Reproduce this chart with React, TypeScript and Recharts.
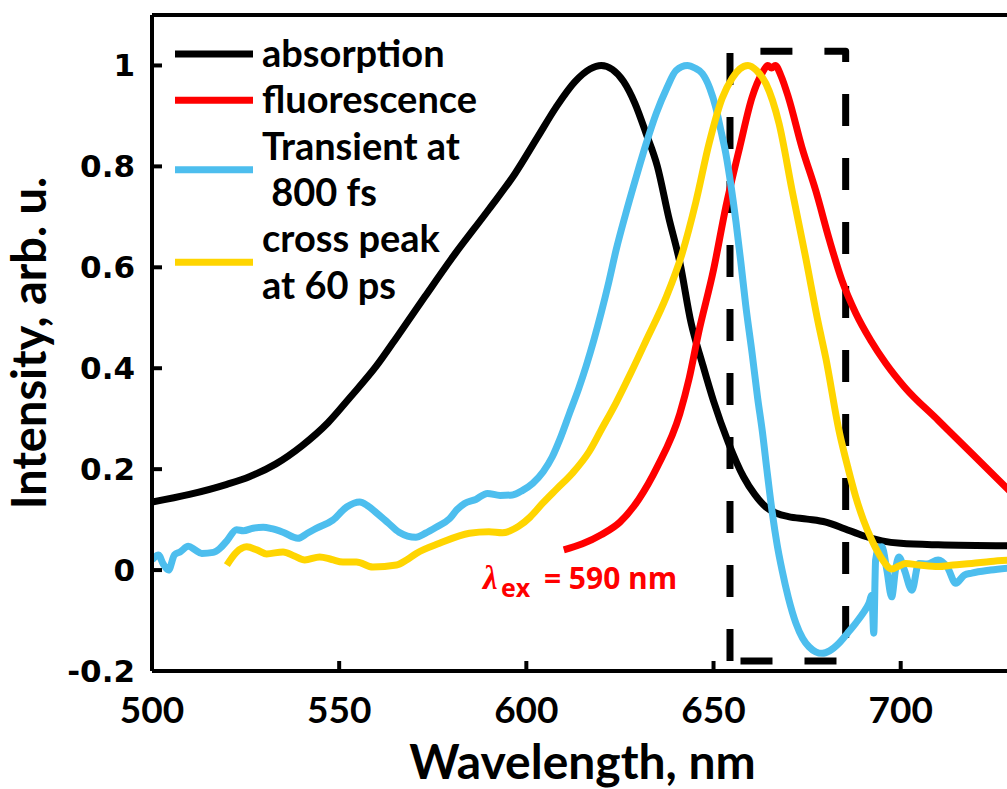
import React from "react"
import { LineChart, Line, XAxis, YAxis, Legend, ReferenceDot } from "recharts"

// wavelength (nm) / normalised intensity
const absorptionNm = [500, 510, 520, 526, 533, 540, 547, 553, 560, 566, 573, 580, 590, 597, 603, 608, 613, 617, 620, 623, 626, 629, 632, 635, 638, 641, 644, 647, 650, 654, 658, 661, 664, 667, 670, 675, 680, 685, 690, 695, 700, 710, 730]
const absorptionVal = [0.135, 0.15, 0.17, 0.185, 0.21, 0.246, 0.292, 0.343, 0.405, 0.468, 0.543, 0.617, 0.715, 0.786, 0.858, 0.918, 0.968, 0.993, 1.0, 0.992, 0.968, 0.925, 0.865, 0.8, 0.7, 0.61, 0.49, 0.41, 0.335, 0.252, 0.185, 0.15, 0.125, 0.112, 0.106, 0.101, 0.095, 0.082, 0.068, 0.058, 0.053, 0.05, 0.048]

const fluorNm = [610, 615, 620, 625, 630, 635, 641, 643.5, 646, 650, 653.3, 657, 660.3, 663, 664.5, 665.5, 666.5, 668, 670, 673.6, 677.3, 681, 684.3, 688, 692, 696, 701, 710, 719, 730]
const fluorVal = [0.04, 0.052, 0.07, 0.095, 0.14, 0.205, 0.31, 0.38, 0.47, 0.595, 0.72, 0.838, 0.937, 0.985, 1.0, 0.995, 1.0, 0.98, 0.937, 0.838, 0.752, 0.653, 0.574, 0.509, 0.455, 0.41, 0.363, 0.297, 0.231, 0.15]

const transientNm = [500, 501.7, 503, 504.4, 506, 507.5, 509.7, 511.5, 513.3, 516.4, 518, 520, 522.6, 524.4, 527, 529.7, 532, 535, 539, 541.5, 544, 548.3, 552, 555.5, 557.5, 560, 563, 566, 570.5, 573, 575.9, 579.5, 581.5, 583.5, 586.5, 589.6, 593, 596.3, 599, 601.7, 604.5, 606.9, 609, 611.5, 614, 616, 618, 620, 622, 624, 626.5, 629.3, 632, 634.7, 637.5, 640, 643, 645, 647, 649, 650.6, 652, 653.3, 654.7, 656, 657.3, 658.6, 660.3, 661.8, 663, 664.4, 665.7, 667, 668.3, 670, 672, 673.8, 675.5, 677.3, 679, 681, 683.5, 685.8, 688, 690, 691.5, 692.3, 692.8, 693.3, 694.2, 695, 696.3, 697.6, 698.6, 699.5, 701, 703, 704.8, 707, 710, 712.5, 714.7, 717, 719, 724, 730]
const transientVal = [0.02, 0.03, 0.012, 0.0, 0.03, 0.036, 0.047, 0.04, 0.033, 0.035, 0.042, 0.058, 0.08, 0.078, 0.083, 0.085, 0.082, 0.075, 0.063, 0.073, 0.083, 0.099, 0.125, 0.135, 0.128, 0.113, 0.094, 0.075, 0.065, 0.073, 0.085, 0.102, 0.12, 0.132, 0.14, 0.152, 0.148, 0.149, 0.158, 0.172, 0.195, 0.224, 0.26, 0.31, 0.36, 0.405, 0.455, 0.51, 0.57, 0.635, 0.705, 0.778, 0.845, 0.905, 0.955, 0.99, 1.0, 0.995, 0.984, 0.955, 0.917, 0.87, 0.825, 0.76, 0.69, 0.61, 0.525, 0.43, 0.34, 0.277, 0.19, 0.113, 0.05, 0.0, -0.055, -0.105, -0.135, -0.152, -0.162, -0.165, -0.16, -0.145, -0.125, -0.105, -0.085, -0.066, -0.05, -0.125, 0.02, 0.045, 0.046, 0.0, -0.053, 0.0, 0.026, 0.0, -0.04, 0.013, 0.012, 0.02, 0.005, -0.026, -0.01, -0.006, 0.0, 0.005]

const crossNm = [520, 522.5, 525.3, 528, 530.6, 535, 538, 540.8, 544.8, 548, 551, 554.6, 559, 565.3, 568, 570.6, 576.8, 584.8, 590, 593.6, 598, 601, 604.3, 608, 612.3, 616.8, 620, 624, 628, 632, 637.3, 641.6, 645.3, 648.8, 652.3, 655, 657, 659.2, 661.5, 664, 667.5, 671, 674.6, 678, 680, 683.5, 686, 688, 690, 692.3, 695, 697.6, 699.5, 701.3, 705, 710, 714, 719, 724, 730]
const crossVal = [0.01, 0.035, 0.046, 0.04, 0.032, 0.036, 0.028, 0.02, 0.026, 0.021, 0.016, 0.016, 0.006, 0.01, 0.02, 0.033, 0.053, 0.073, 0.076, 0.074, 0.087, 0.105, 0.132, 0.16, 0.192, 0.235, 0.278, 0.332, 0.392, 0.455, 0.54, 0.627, 0.73, 0.845, 0.935, 0.975, 0.993, 1.0, 0.99, 0.964, 0.885, 0.752, 0.62, 0.489, 0.42, 0.277, 0.2, 0.145, 0.1, 0.059, 0.022, 0.002, 0.008, 0.013, 0.01, 0.007, 0.01, 0.013, 0.017, 0.02]

// dashed window, traced from its lower-left corner
const windowNm = [654.4, 654.4, 685.3, 685.3, 654.4]
const windowVal = [-0.18, 1.028, 1.028, -0.18, -0.18]

const xTicks = [500, 550, 600, 650, 700]
const yTicks = [-0.2, 0, 0.2, 0.4, 0.6, 0.8, 1]
const xDomain = [500, 730]
const yDomain = [-0.2, 1.1]

const excitationNm = 588.4
const excitationY = -0.038

const zip = (nm: number[], val: number[]) => nm.map((x, i) => ({ x, y: val[i] }))

const series = [
  { name: "absorption", color: "#000000", data: zip(absorptionNm, absorptionVal), label: ["absorption"] },
  { name: "fluorescence", color: "#ff0000", data: zip(fluorNm, fluorVal), label: ["fluorescence"] },
  { name: "transient", color: "#4dbeee", data: zip(transientNm, transientVal), label: ["Transient at", " 800 fs"] },
  { name: "cross", color: "#ffd500", data: zip(crossNm, crossVal), label: ["cross peak", "at 60 ps"] },
]

const sans = "Lato, 'Open Sans', sans-serif"

function LegendBox() {
  let row = 0
  return (
    <svg width={340} height={290} style={{ display: "block" }}>
      {series.map((s) => {
        const first = 39 + row * 46.3
        const last = first + (s.label.length - 1) * 46.3
        row += s.label.length
        const ly = (first + last) / 2 - 13
        return (
          <g key={s.name}>
            <line x1={5} x2={83} y1={ly} y2={ly} stroke={s.color} strokeWidth={7} />
            {s.label.map((t, i) => (
              <text key={i} x={92} y={first + i * 46.3} fontFamily={sans} fontWeight={700} fontSize={38} fill="#000" style={{ whiteSpace: "pre" }}>
                {t}
              </text>
            ))}
          </g>
        )
      })}
    </svg>
  )
}

function YTitle(props: any) {
  const vb = props.viewBox || { x: 52, y: 15, width: 100, height: 656 }
  const cx = vb.x - 6
  const cy = vb.y + vb.height / 2
  return (
    <text x={cx} y={cy} transform={`rotate(-90 ${cx} ${cy})`} textAnchor="middle" fontFamily={sans} fontWeight={700} fontSize={47} fill="#000">
      Intensity, arb. u.
    </text>
  )
}

function XTitle(props: any) {
  const vb = props.viewBox || { x: 152, y: 671, width: 861, height: 118 }
  const cx = vb.x + vb.width / 2
  return (
    <text x={cx} y={vb.y + 108} textAnchor="middle" fontFamily={sans} fontWeight={700} fontSize={48} fill="#000">
      Wavelength, nm
    </text>
  )
}

function ExcitationNote(props: any) {
  const { cx, cy } = props
  return (
    <text x={cx} y={cy} fill="#ff0000" fontFamily="'Open Sans', sans-serif" fontWeight={700} fontSize={30}>
      <tspan fontFamily="'Liberation Serif', serif" fontStyle="italic" fontSize={33}>λ</tspan>
      <tspan x={cx + 18} dy={8} fontSize={25}>ex</tspan>
      <tspan x={cx + 61} dy={-8}>= 590 nm</tspan>
    </text>
  )
}

const axisLine = { stroke: "#000", strokeWidth: 4 }
const tickLine = { stroke: "#000", strokeWidth: 4 }

export default function App() {
  return (
    <div style={{ position: "fixed", left: 0, top: 0, width: 1007, height: 789, overflow: "hidden", background: "#fff" }}>
      <LineChart width={1040} height={789} margin={{ top: 0, right: 17, bottom: 0, left: 52 }}>
        <XAxis
          dataKey="x"
          type="number"
          domain={xDomain}
          allowDataOverflow
          ticks={xTicks}
          interval={0}
          height={118}
          tickSize={-10}
          tickMargin={36}
          axisLine={axisLine}
          tickLine={tickLine}
          tick={{ fill: "#000", fontSize: 37, fontFamily: sans, fontWeight: 700 }}
          label={{ content: (p: any) => <XTitle {...p} /> }}
        />
        <XAxis
          xAxisId="top"
          orientation="top"
          dataKey="x"
          type="number"
          domain={xDomain}
          allowDataOverflow
          ticks={xTicks}
          interval={0}
          height={15}
          tickSize={-10}
          axisLine={axisLine}
          tickLine={tickLine}
          tick={false}
        />
        <YAxis
          type="number"
          domain={yDomain}
          allowDataOverflow
          ticks={yTicks}
          interval={0}
          width={100}
          tickSize={-10}
          tickMargin={27}
          axisLine={axisLine}
          tickLine={tickLine}
          tick={{ fill: "#000", fontSize: 31, fontFamily: "'DejaVu Sans', sans-serif", fontWeight: 700 }}
          label={{ content: (p: any) => <YTitle {...p} /> }}
        />
        <YAxis
          yAxisId="right"
          orientation="right"
          type="number"
          domain={yDomain}
          allowDataOverflow
          ticks={yTicks}
          interval={0}
          width={10}
          tickSize={-10}
          axisLine={axisLine}
          tickLine={tickLine}
          tick={false}
        />
        <Legend
          layout="vertical"
          align="center"
          verticalAlign="middle"
          wrapperStyle={{ left: 170, top: 28, width: 340 }}
          content={() => <LegendBox />}
        />
        <Line
          data={zip(windowNm, windowVal)}
          dataKey="y"
          type="linear"
          stroke="#000"
          strokeWidth={7}
          strokeDasharray="32 32"
          strokeLinejoin="round"
          dot={false}
          activeDot={false}
          legendType="none"
          isAnimationActive={false}
        />
        {series.map((s) => (
          <Line
            key={s.name}
            name={s.name}
            data={s.data}
            dataKey="y"
            type="monotone"
            stroke={s.color}
            strokeWidth={7}
            dot={false}
            activeDot={false}
            isAnimationActive={false}
          />
        ))}
        <ReferenceDot x={excitationNm} y={excitationY} r={0} ifOverflow="visible" shape={(p: any) => <ExcitationNote {...p} />} />
      </LineChart>
    </div>
  )
}
